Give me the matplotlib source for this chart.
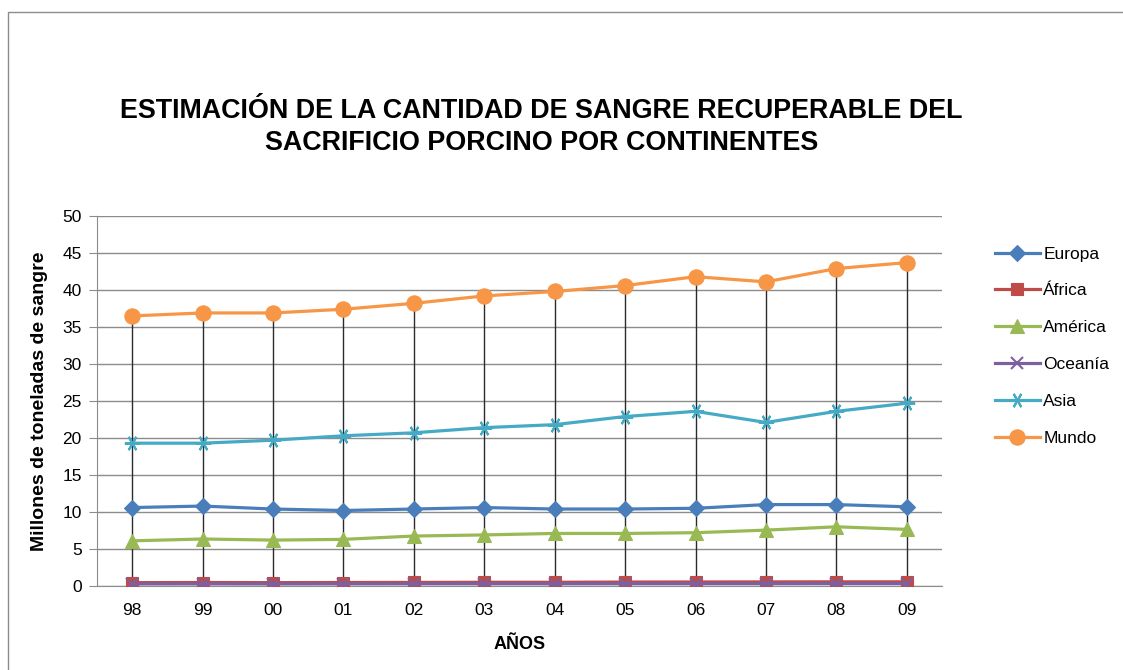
import matplotlib.pyplot as plt
from matplotlib.patches import Rectangle
import numpy as np

years = ['98', '99', '00', '01', '02', '03', '04', '05', '06', '07', '08', '09']
europa = [10.6, 10.8, 10.4, 10.2, 10.4, 10.6, 10.4, 10.4, 10.5, 11.0, 11.0, 10.7]
africa = [0.45, 0.47, 0.45, 0.47, 0.48, 0.50, 0.50, 0.53, 0.54, 0.55, 0.56, 0.56]
america = [6.1, 6.35, 6.2, 6.3, 6.75, 6.9, 7.1, 7.1, 7.2, 7.55, 8.0, 7.65]
oceania = [0.28, 0.29, 0.28, 0.29, 0.30, 0.30, 0.30, 0.31, 0.31, 0.31, 0.32, 0.32]
asia = [19.3, 19.3, 19.7, 20.3, 20.7, 21.4, 21.8, 22.9, 23.6, 22.1, 23.6, 24.7]
mundo = [36.5, 36.9, 36.9, 37.4, 38.2, 39.2, 39.8, 40.6, 41.8, 41.1, 42.9, 43.7]

plt.rcParams['font.family'] = ['Liberation Sans', 'DejaVu Sans']

fig = plt.figure(figsize=(11.23, 6.70), dpi=100)
fig.patches.append(Rectangle((0.007, -0.01), 1.0, 0.992, transform=fig.transFigure,
                             fill=False, edgecolor='#8c8c8c', linewidth=1))
ax = fig.add_axes([0.0864, 0.1254, 0.7524, 0.5522])

x = np.arange(len(years))

# vertical drop lines from the top series down to the axis
ax.vlines(x, 0, mundo, colors='#2b2b2b', linewidth=1, zorder=1)

series = [
    ('Europa', europa, '#4A7EBB', 'D', 8),
    ('África', africa, '#BE4B48', 's', 9),
    ('América', america, '#98B954', '^', 10),
    ('Oceanía', oceania, '#7D60A0', 'x', 9),
    ('Asia', asia, '#46AAC5', (6, 2, 90), 11),
    ('Mundo', mundo, '#F79646', 'o', 11),
]
for name, vals, col, mk, ms in series:
    ax.plot(x, vals, color=col, marker=mk, markersize=ms, linewidth=2.3,
            markeredgewidth=1.5 if mk in ('x',) or isinstance(mk, tuple) else 0.8,
            markeredgecolor=col, label=name, zorder=3)

ax.set_xlim(-0.5, len(years) - 0.5)
ax.set_ylim(0, 50)
ax.set_yticks(np.arange(0, 51, 5))
ax.set_xticks(x)
ax.set_xticklabels(years)
ax.yaxis.grid(True, color='#8c8c8c', linewidth=1)
ax.set_axisbelow(True)
for s in ['top', 'right']:
    ax.spines[s].set_visible(False)
ax.spines['left'].set_color('#8c8c8c')
ax.spines['bottom'].set_color('#8c8c8c')
ax.tick_params(axis='y', length=6, color='#8c8c8c', labelsize=12.5, pad=5)
ax.tick_params(axis='x', length=0, labelsize=12.5, pad=12)

ax.set_xlabel('AÑOS', fontsize=13, fontweight='bold', labelpad=13)
ax.set_ylabel('Millones de toneladas de sangre', fontsize=14, fontweight='bold', labelpad=10)

fig.text(0.482, 0.81, 'ESTIMACIÓN DE LA CANTIDAD DE SANGRE RECUPERABLE DEL\nSACRIFICIO PORCINO POR CONTINENTES',
         ha='center', va='center', fontsize=19.4, fontweight='bold', linespacing=1.3)

ax.legend(loc='upper left', bbox_to_anchor=(1.044, 0.96), frameon=False, fontsize=12.5,
          handlelength=2.6, labelspacing=1.25, handletextpad=0.2)

fig.savefig('out.png', dpi=100)
